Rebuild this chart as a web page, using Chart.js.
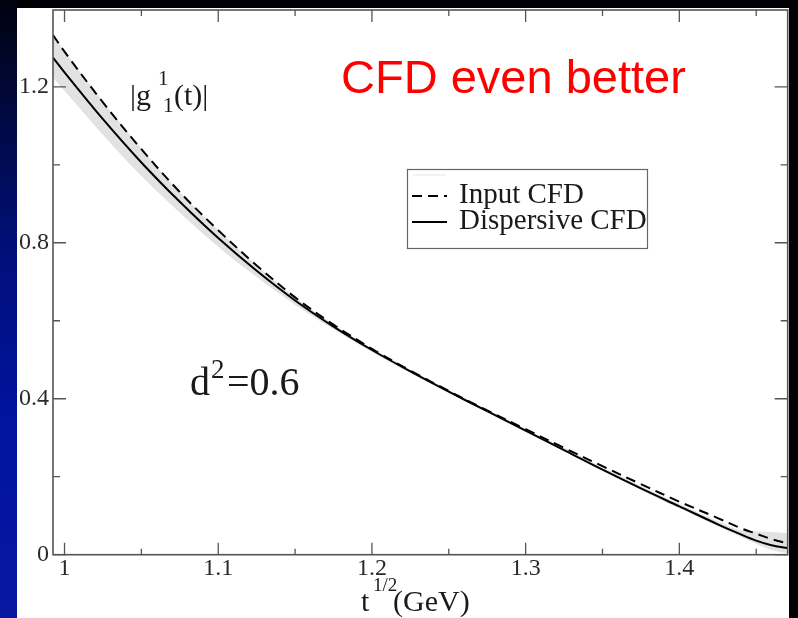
<!DOCTYPE html>
<html lang="en">
<head>
  <meta charset="UTF-8">
  <title>g11 dispersive check</title>
  <script src="https://cdn.jsdelivr.net/npm/chart.js"></script>
  <style>
    html, body { margin: 0; padding: 0; width: 798px; height: 618px; overflow: hidden; background: #000004; }
    #left { position: absolute; left: 0; top: 0; width: 17px; height: 618px;
      background: linear-gradient(to bottom, #00020e 0%, #000838 15%, #000f78 40%, #0014a0 70%, #0818a0 100%); }
    #panel { position: absolute; left: 17px; top: 8px; width: 772px; height: 610px; background: #fff; }
    #chart { position: absolute; left: 0; top: 0; }
  </style>
</head>
<body>
  <div id="left"></div>
  <div id="panel"></div>
  <canvas id="chart" width="798" height="618"></canvas>

  <script>
    // sqrt(t) in GeV
    const xValues   = [0.9925, 1.000, 1.025, 1.050, 1.075, 1.100, 1.125, 1.150, 1.175, 1.200, 1.225, 1.250,
                       1.275, 1.300, 1.325, 1.350, 1.375, 1.400, 1.425, 1.440, 1.450, 1.460, 1.4705];
    const dispersive = [1.275, 1.237, 1.117, 1.006, 0.905, 0.812, 0.728, 0.652, 0.585, 0.525, 0.470, 0.418,
                        0.368, 0.318, 0.268, 0.218, 0.170, 0.124, 0.078, 0.052, 0.036, 0.024, 0.017];
    const inputCfd   = [1.333, 1.290, 1.160, 1.040, 0.930, 0.832, 0.742, 0.660, 0.590, 0.528, 0.472, 0.420,
                        0.370, 0.322, 0.274, 0.227, 0.181, 0.136, 0.094, 0.068, 0.054, 0.040, 0.029];
    const bandLow    = [1.224, 1.190, 1.077, 0.971, 0.877, 0.790, 0.712, 0.641, 0.578, 0.520, 0.466, 0.415,
                        0.365, 0.315, 0.265, 0.215, 0.166, 0.119, 0.073, 0.046, 0.028, 0.012, 0.004];
    const bandHigh   = [1.335, 1.292, 1.163, 1.042, 0.930, 0.832, 0.742, 0.660, 0.590, 0.528, 0.474, 0.421,
                        0.371, 0.322, 0.274, 0.224, 0.176, 0.130, 0.086, 0.062, 0.060, 0.058, 0.055];

    const xTickLabels = ['1', '1.1', '1.2', '1.3', '1.4'];
    const yTickLabels = ['0', '0.4', '0.8', '1.2'];

    const pts = ys => xValues.map((x, i) => ({ x, y: ys[i] }));
    const serif = '"Liberation Serif", "DejaVu Serif", serif';
    const frameColor = '#555';

    // xmgrace style frame with inward ticks, plus the annotations
    const decorations = {
      id: 'decorations',
      afterDraw(chart) {
        const { ctx, chartArea: a, scales } = chart;
        ctx.save();
        ctx.strokeStyle = frameColor;
        ctx.lineWidth = 1.6;
        ctx.strokeRect(a.left, a.top, a.right - a.left, a.bottom - a.top);

        ctx.lineWidth = 1.3;
        scales.x.ticks.forEach(t => {
          const px = scales.x.getPixelForValue(t.value);
          const len = t.label !== '' ? 12 : 6;
          ctx.beginPath();
          ctx.moveTo(px, a.bottom); ctx.lineTo(px, a.bottom - len);
          ctx.moveTo(px, a.top); ctx.lineTo(px, a.top + len);
          ctx.stroke();
        });
        scales.y.ticks.forEach(t => {
          const py = scales.y.getPixelForValue(t.value);
          const len = t.label !== '' ? 13 : 7;
          ctx.beginPath();
          ctx.moveTo(a.left, py); ctx.lineTo(a.left + len, py);
          ctx.moveTo(a.right, py); ctx.lineTo(a.right - len, py);
          ctx.stroke();
        });

        // legend
        ctx.lineWidth = 1.2;
        ctx.strokeStyle = '#666';
        ctx.strokeRect(407.5, 169.5, 240, 79);
        ctx.strokeStyle = '#e8e8e8';
        ctx.beginPath(); ctx.moveTo(413, 175); ctx.lineTo(446, 175); ctx.stroke();
        const ds = chart.data.datasets;
        [[ds[1], 196, 'Input CFD'], [ds[0], 222, 'Dispersive CFD']].forEach(([d, y, label]) => {
          ctx.strokeStyle = d.borderColor;
          ctx.lineWidth = d.borderWidth;
          ctx.setLineDash(d.borderDash || []);
          ctx.beginPath(); ctx.moveTo(412, y); ctx.lineTo(447, y); ctx.stroke();
          ctx.setLineDash([]);
          ctx.fillStyle = '#1a1a1a';
          ctx.font = '29px ' + serif;
          ctx.textBaseline = 'alphabetic';
          ctx.fillText(label, 459, y + 7);
        });

        ctx.fillStyle = '#1a1a1a';
        // |g^1_1(t)|
        ctx.font = '30px ' + serif;
        ctx.fillText('|g', 130, 105);
        ctx.font = '21px ' + serif;
        ctx.fillText('1', 158, 85);
        ctx.fillText('1', 163, 112);
        ctx.font = '30px ' + serif;
        ctx.fillText('(t)|', 174, 105);

        // d^2=0.6
        ctx.font = '40px ' + serif;
        ctx.fillText('d', 190, 395);
        ctx.font = '27px ' + serif;
        ctx.fillText('2', 211, 378);
        ctx.font = '40px ' + serif;
        ctx.fillText('=0.6', 227, 395);

        // axis title t^{1/2}(GeV)
        ctx.font = '30px ' + serif;
        ctx.fillText('t', 361, 611);
        ctx.font = '19px ' + serif;
        ctx.fillText('1/2', 373, 591);
        ctx.font = '30px ' + serif;
        ctx.fillText('(GeV)', 393, 611);

        ctx.fillStyle = '#ff0000';
        ctx.font = '47px "Liberation Sans", Arial, sans-serif';
        ctx.fillText('CFD even better', 341, 93);
        ctx.restore();
      }
    };

    new Chart(document.getElementById('chart'), {
      type: 'line',
      data: {
        datasets: [
          { label: 'Dispersive CFD', data: pts(dispersive), borderColor: '#000', borderWidth: 2,
            pointRadius: 0, tension: 0.35, fill: false },
          { label: 'Input CFD', data: pts(inputCfd), borderColor: '#000', borderWidth: 2, borderDash: [10, 6],
            pointRadius: 0, tension: 0.35, fill: false },
          { label: 'band low', data: pts(bandLow), borderWidth: 0, borderColor: 'rgba(0,0,0,0)',
            pointRadius: 0, tension: 0.35, fill: false },
          { label: 'band high', data: pts(bandHigh), borderWidth: 0, borderColor: 'rgba(0,0,0,0)',
            backgroundColor: '#e2e2e2', pointRadius: 0, tension: 0.35, fill: '-1' }
        ]
      },
      options: {
        responsive: false,
        animation: false,
        layout: { padding: { left: 0, top: 10, right: 10.3, bottom: 0 } },
        plugins: { legend: { display: false }, tooltip: { enabled: false } },
        scales: {
          x: {
            type: 'linear', min: 0.9925, max: 1.4705,
            grid: { display: false, drawTicks: false }, border: { display: false },
            afterFit: s => { s.height = 63.3; s.paddingLeft = 0; s.paddingRight = 0; },
            ticks: {
              stepSize: 0.05, includeBounds: false, maxRotation: 0, autoSkip: false, padding: 0,
              color: '#2a2a2a', font: { family: serif, size: 24 },
              callback: v => { const l = String(+v.toFixed(2)); return xTickLabels.includes(l) ? l : ''; }
            }
          },
          y: {
            min: 0, max: 1.397,
            grid: { display: false, drawTicks: false }, border: { display: false },
            afterFit: s => { s.width = 53; s.paddingTop = 0; s.paddingBottom = 0; },
            ticks: {
              stepSize: 0.2, includeBounds: false, autoSkip: false, padding: 4,
              color: '#2a2a2a', font: { family: serif, size: 24 },
              callback: v => { const l = String(+v.toFixed(2)); return yTickLabels.includes(l) ? l : ''; }
            }
          }
        }
      },
      plugins: [decorations]
    });
  </script>
</body>
</html>
